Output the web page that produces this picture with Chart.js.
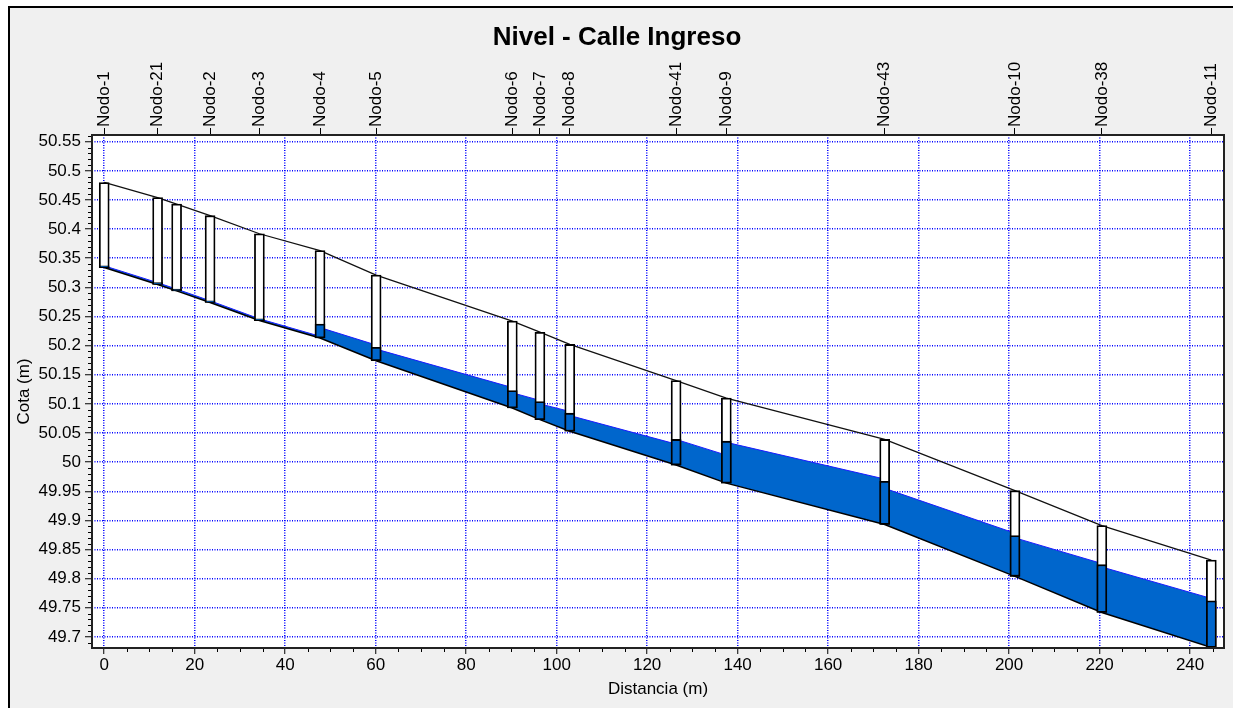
<!DOCTYPE html>
<html>
<head>
<meta charset="utf-8">
<title>Nivel - Calle Ingreso</title>
<script src="https://cdn.jsdelivr.net/npm/chart.js@4.4.1/dist/chart.umd.min.js"></script>
<style>
  html, body { margin: 0; padding: 0; background: #fff; overflow: hidden; }
  #frame {
    position: absolute; left: 8px; top: 6px;
    width: 1240px; height: 710px;
    border-left: 2px solid #000; border-top: 2px solid #000;
    background: #f0f0f0;
  }
  #frame canvas { display: block; }
</style>
</head>
<body>
<div id="frame"><canvas id="profile" width="1223" height="700"></canvas></div>
<script>
// nodes along the street, upstream to downstream
const nodeNames = ['Nodo-1', 'Nodo-21', '', 'Nodo-2', 'Nodo-3', 'Nodo-4', 'Nodo-5', 'Nodo-6',
  'Nodo-7', 'Nodo-8', 'Nodo-41', 'Nodo-9', 'Nodo-43', 'Nodo-10', 'Nodo-38', 'Nodo-11'];
const nodeDist = [0, 11.8, 16.0, 23.4, 34.3, 47.7, 60.1, 90.2, 96.3, 102.9, 126.4, 137.5, 172.5, 201.3, 220.5, 244.7];
const groundElev = [50.480, 50.454, 50.443, 50.423, 50.392, 50.363, 50.321, 50.242, 50.223, 50.202,
  50.140, 50.110, 50.039, 49.951, 49.891, 49.832];
const invertElev = [50.334, 50.305, 50.294, 50.274, 50.243, 50.213, 50.174, 50.093, 50.073, 50.053,
  49.995, 49.964, 49.893, 49.804, 49.742, 49.682];
const nodeWater = [50.337, 50.308, 50.297, 50.277, 50.246, 50.237, 50.197, 50.123, 50.104, 50.084,
  50.039, 50.036, 49.967, 49.874, 49.824, 49.762];
// water level at the upstream / downstream end of each link
const linkWaterUp = [50.337, 50.308, 50.297, 50.277, 50.246, 50.231, 50.194, 50.119, 50.100, 50.080,
  50.039, 50.034, 49.955, 49.870, 49.820];
const linkWaterDown = [50.308, 50.297, 50.277, 50.246, 50.216, 50.201, 50.128, 50.106, 50.087, 50.031,
  50.012, 49.971, 49.878, 49.826, 49.766];

const xTicks = [0, 20, 40, 60, 80, 100, 120, 140, 160, 180, 200, 220, 240];
const yTicks = [49.7, 49.75, 49.8, 49.85, 49.9, 49.95, 50, 50.05, 50.1, 50.15, 50.2, 50.25,
  50.3, 50.35, 50.4, 50.45, 50.5, 50.55];

const FONT = '"Liberation Sans", Arial, sans-serif';
const GRID_BLUE = '#0000ff';
const WATER = '#0066cc';

const waterPts = [];
const invertPts = [];
for (let i = 0; i < nodeDist.length - 1; i++) {
  waterPts.push({x: nodeDist[i], y: linkWaterUp[i]}, {x: nodeDist[i + 1], y: linkWaterDown[i]});
  invertPts.push({x: nodeDist[i], y: invertElev[i]}, {x: nodeDist[i + 1], y: invertElev[i + 1]});
}
const groundPts = nodeDist.map((d, i) => ({x: d, y: groundElev[i]}));
const shaftPts = nodeDist.map((d, i) => ({x: d, y: [invertElev[i], groundElev[i]]}));
const shaftWaterPts = nodeDist.map((d, i) => ({x: d, y: [invertElev[i], nodeWater[i]]}));
const labelled = nodeNames.map((name, i) => ({name, dist: nodeDist[i]})).filter(n => n.name);

// white plot background, minor ticks on both axes and the frame round the plot
const plotFrame = {
  id: 'plotFrame',
  beforeDraw(chart) {
    const {ctx, chartArea: a} = chart;
    ctx.save();
    ctx.fillStyle = '#fff';
    ctx.fillRect(a.left, a.top, a.right - a.left, a.bottom - a.top);
    ctx.restore();
  },
  afterDraw(chart) {
    const {ctx, chartArea: a, scales: {x, y}} = chart;
    ctx.save();
    ctx.strokeStyle = '#000';
    ctx.lineWidth = 1;
    ctx.beginPath();
    for (let v = 5; v <= x.max; v += 5) {
      if (v % 20 === 0) continue;
      const px = Math.round(x.getPixelForValue(v)) + 0.5;
      ctx.moveTo(px, a.bottom);
      ctx.lineTo(px, a.bottom + 4);
    }
    for (let k = Math.ceil(y.min * 100); k <= Math.floor(y.max * 100); k++) {
      if (k % 5 === 0) continue;
      const py = Math.round(y.getPixelForValue(k / 100)) + 0.5;
      ctx.moveTo(a.left - 4, py);
      ctx.lineTo(a.left, py);
    }
    ctx.stroke();
    ctx.lineWidth = 2;
    ctx.strokeStyle = '#222';
    ctx.strokeRect(a.left, a.top, a.right - a.left, a.bottom - a.top);
    ctx.restore();
  }
};

const tickFont = {family: FONT, size: 17};

new Chart(document.getElementById('profile'), {
  type: 'line',
  data: {
    datasets: [
      { data: waterPts, borderColor: '#1a1aff', borderWidth: 1, backgroundColor: WATER,
        fill: '+1', pointRadius: 0, tension: 0, order: 3 },
      { data: invertPts, borderColor: '#000', borderWidth: 1.5, fill: false, pointRadius: 0, tension: 0, order: 2 },
      { data: groundPts, borderColor: '#111', borderWidth: 1.3, fill: false, pointRadius: 0, tension: 0, order: 2 },
      { type: 'bar', data: shaftPts, backgroundColor: '#fff', borderColor: '#000', borderWidth: 1.8,
        borderSkipped: false, barThickness: 10, grouped: false, order: 1 },
      { type: 'bar', data: shaftWaterPts, backgroundColor: WATER, borderColor: '#000', borderWidth: 1.8,
        borderSkipped: false, barThickness: 10, grouped: false, order: 0 }
    ]
  },
  options: {
    responsive: false,
    animation: false,
    layout: { padding: {left: 0, right: 9, top: 0, bottom: 0} },
    plugins: {
      legend: { display: false },
      tooltip: { enabled: false },
      title: {
        display: true, text: 'Nivel - Calle Ingreso', color: '#000',
        font: {family: FONT, size: 26, weight: 'bold'},
        padding: {top: 14, bottom: 0}
      }
    },
    scales: {
      x: {
        type: 'linear', position: 'bottom', min: -2.7, max: 247.5, offset: false,
        afterBuildTicks: s => { s.ticks = xTicks.map(v => ({value: v})); },
        afterFit: s => { s.height = 60; },
        ticks: { font: tickFont, color: '#000', padding: 1, maxRotation: 0, autoSkip: false, callback: v => String(v) },
        grid: { color: GRID_BLUE, lineWidth: 1.5, tickLength: 6, tickWidth: 1, tickColor: '#000', offset: false },
        border: { display: false, dash: [1, 1.5] },
        title: { display: true, text: 'Distancia (m)', color: '#000', font: tickFont, padding: {top: 0, bottom: 8} }
      },
      xTop: {
        type: 'linear', position: 'top', min: -2.7, max: 247.5, offset: false,
        afterBuildTicks: s => { s.ticks = labelled.map(n => ({value: n.dist})); },
        afterFit: s => { s.height = 127 - 14 - 26 * 1.2; },
        ticks: { font: tickFont, color: '#000', padding: 1, minRotation: 90, maxRotation: 90, autoSkip: false,
          labelOffset: 17 * 1.2, callback: (v, i) => labelled[i].name },
        grid: { drawOnChartArea: false, tickLength: 7, tickColor: '#000', color: '#000' },
        border: { display: false }
      },
      y: {
        type: 'linear', min: 49.681, max: 50.5615,
        afterBuildTicks: s => { s.ticks = yTicks.map(v => ({value: v})); },
        afterFit: s => { s.width = 82; },
        ticks: { font: tickFont, color: '#000', padding: 4, autoSkip: false, callback: v => String(+v.toFixed(2)) },
        grid: { color: GRID_BLUE, lineWidth: 1.5, tickLength: 7, tickWidth: 1, tickColor: '#000' },
        border: { display: false, dash: [1, 1.5] },
        title: { display: true, text: 'Cota (m)', color: '#000', font: tickFont, padding: {top: 4, bottom: 0} }
      }
    }
  },
  plugins: [plotFrame]
});
</script>
</body>
</html>
